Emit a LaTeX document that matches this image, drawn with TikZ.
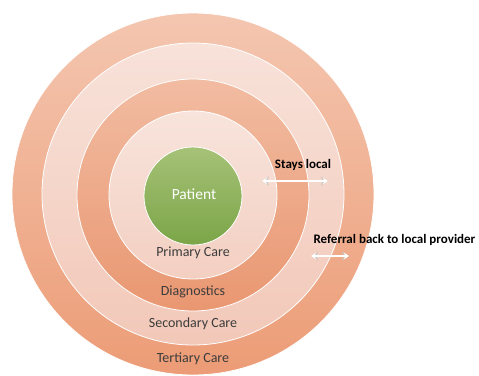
\documentclass[tikz,border=0pt]{standalone}
\usepackage{fontspec}
\setmainfont{Carlito}
\usetikzlibrary{arrows.meta}
\definecolor{ringA}{HTML}{F4C6B0}
\definecolor{ringAd}{HTML}{EC9C76}
\definecolor{ringB}{HTML}{F8E2DA}
\definecolor{ringBd}{HTML}{F2C8B8}
\definecolor{ringC}{HTML}{F2BCA2}
\definecolor{ringCd}{HTML}{E99771}
\definecolor{ringD}{HTML}{F8E4DC}
\definecolor{ringDd}{HTML}{F3CFC1}
\definecolor{patA}{HTML}{A6C277}
\definecolor{patB}{HTML}{7BA548}
\definecolor{labelgray}{HTML}{3C3C3C}
\tikzset{
  ring/.style={draw=white,line width=0.8pt,shading angle=35},
  ringlabel/.style={text=labelgray,font=\fontsize{14}{16}\selectfont},
  sidelabel/.style={font=\bfseries\fontsize{13}{15}\selectfont},
  flow/.style={preaction={draw=gray!45,line width=2.8pt,{Stealth[length=7pt,width=9pt]}-{Stealth[length=7pt,width=9pt]}},
    {Stealth[length=5pt,width=6.5pt]}-{Stealth[length=5pt,width=6.5pt]},line width=1.2pt,draw=white,shorten <=1pt,shorten >=1pt}
}
\begin{document}
\begin{tikzpicture}[x=1pt,y=-1pt,line join=round]
  \useasboundingbox[fill=white] (0,0) rectangle (479,375);
  % rings, outside in
  \shade[ring,top color=ringA,bottom color=ringAd] (193,194) circle (181);
  \shade[ring,top color=ringB,bottom color=ringBd] (193,194) circle (151);
  \shade[ring,top color=ringC,bottom color=ringCd] (193,195) circle (116);
  \shade[ring,top color=ringD,bottom color=ringDd] (193,195) circle (84);
  \shade[ring,top color=patA,bottom color=patB,shading angle=0] (193,196) circle (49);
  \node[text=white,font=\fontsize{15.5}{17}\selectfont] (patient) at (194,194) {Patient};
  \node[ringlabel] (primary) at (193,253) {Primary Care};
  \node[ringlabel] (diag) at (193,292) {Diagnostics};
  \node[ringlabel] (secondary) at (193,324) {Secondary Care};
  \node[ringlabel] (tertiary) at (193,359) {Tertiary Care};
  % arrows
  \node[sidelabel] (local) at (303,165) {Stays local};
  \node[sidelabel,anchor=west] (referral) at (310,240) {Referral back to local provider};
  \coordinate (l1) at (261,181);
  \coordinate (l2) at (329,181);
  \coordinate (r1) at (310,256);
  \coordinate (r2) at (350,256);
  \draw[flow] (l1) -- (l2);
  \draw[flow] (r1) -- (r2);
\end{tikzpicture}
\end{document}
